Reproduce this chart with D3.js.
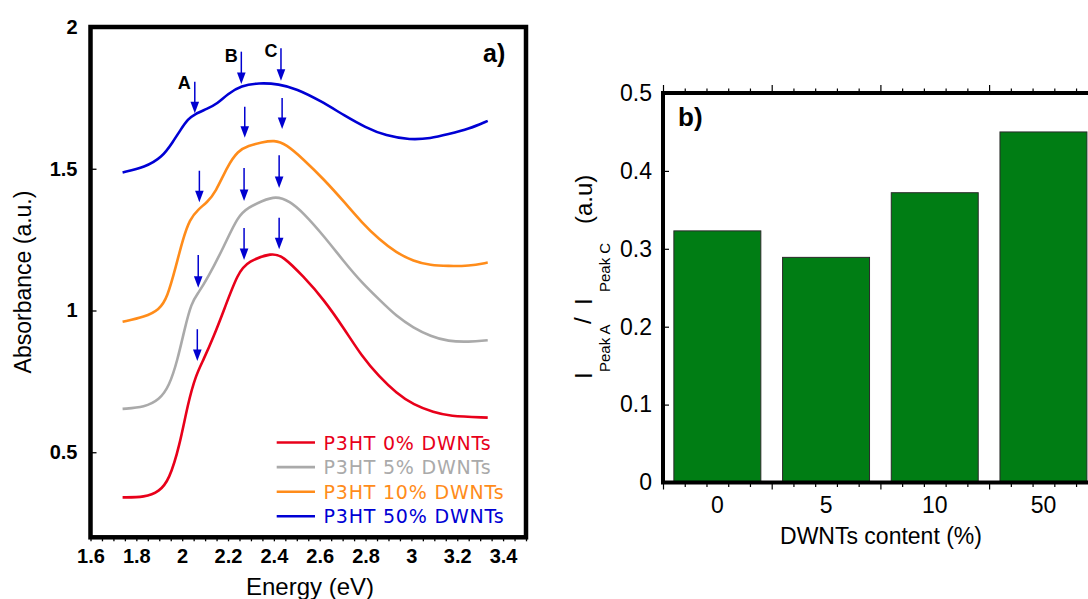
<!DOCTYPE html>
<html><head><meta charset="utf-8">
<script src="https://cdn.jsdelivr.net/npm/d3@7"></script>
<style>body{margin:0;background:#fff}svg{display:block}</style>
</head><body>
<svg id="c" width="1088" height="599"></svg>
<script>
// ---------- Panel a) data ----------
const seriesNames = ["P3HT 0% DWNTs","P3HT 5% DWNTs","P3HT 10% DWNTs","P3HT 50% DWNTs"];
const seriesColors = ["#e8001a","#aaaaaa","#ff8c1a","#0000d4"];

const energy0 = [1.74,1.837,1.90,1.943,1.988,2.025,2.06,2.093,2.138,2.183,2.243,2.288,2.393,2.439,2.528,2.618,2.709,2.784,2.859,2.934,3.009,3.10,3.16,3.333];
const abs0    = [0.341,0.341,0.361,0.402,0.52,0.673,0.773,0.826,0.909,1.003,1.133,1.174,1.204,1.192,1.121,1.039,0.933,0.838,0.767,0.709,0.667,0.64,0.628,0.622];

const energy5 = [1.74,1.837,1.90,1.943,1.98,2.01,2.04,2.07,2.108,2.183,2.243,2.288,2.348,2.408,2.469,2.528,2.618,2.709,2.784,2.859,2.934,3.009,3.084,3.16,3.25,3.333];
const abs5    = [0.653,0.659,0.685,0.732,0.826,0.933,1.027,1.062,1.109,1.227,1.333,1.363,1.386,1.404,1.386,1.345,1.263,1.169,1.098,1.039,0.98,0.939,0.909,0.891,0.889,0.895];

const energy10 = [1.74,1.837,1.90,1.935,1.973,2.003,2.033,2.07,2.108,2.145,2.198,2.243,2.288,2.348,2.401,2.453,2.528,2.618,2.709,2.784,2.859,2.934,3.009,3.084,3.16,3.25,3.333];
const abs10    = [0.96,0.977,1.003,1.045,1.157,1.251,1.322,1.357,1.381,1.416,1.51,1.563,1.581,1.593,1.601,1.587,1.534,1.463,1.381,1.31,1.251,1.204,1.174,1.159,1.157,1.157,1.169];

const energy50 = [1.74,1.837,1.912,1.958,1.995,2.025,2.055,2.108,2.153,2.198,2.258,2.333,2.423,2.498,2.603,2.709,2.799,2.889,2.994,3.084,3.16,3.25,3.333];
const abs50    = [1.487,1.505,1.54,1.593,1.64,1.675,1.693,1.711,1.729,1.764,1.793,1.803,1.799,1.782,1.74,1.687,1.646,1.616,1.602,1.607,1.622,1.64,1.669];

const xTicksA = [1.6,1.8,2,2.2,2.4,2.6,2.8,3,3.2,3.4];
const yTicksA = [0.5,1,1.5,2];

// peak arrows (energy, start value, tip value)
const arrowEnergy = [2.055,2.258,2.431, 2.075,2.273,2.436, 2.07,2.27,2.423, 2.066,2.27,2.423];
const arrowFrom   = [1.807,1.913,1.925, 1.493,1.719,1.75, 1.196,1.503,1.548, 0.934,1.291,1.327];
const arrowTo     = [1.696,1.799,1.81,  1.382,1.609,1.64, 1.08,1.386,1.432,  0.822,1.178,1.216];
const peakLabels  = ["A","B","C"];
const peakLabelE  = [2.009,2.214,2.388];
const peakLabelV  = [1.78,1.877,1.893];

// ---------- Panel b) data ----------
const categories = ["0","5","10","50"];
const ratioValues = [0.323,0.289,0.372,0.450];
const yTicksB = [0,0.1,0.2,0.3,0.4,0.5];

// ---------- Drawing ----------
const svg = d3.select("#c");
const seriesE = [energy0,energy5,energy10,energy50];
const seriesV = [abs0,abs5,abs10,abs50];

// Panel a
const A = {l:90.5, r:526, t:27, b:537.3};
const xA = d3.scaleLinear().domain([1.6,3.5]).range([A.l,A.r]);
const yA = d3.scaleLinear().domain([0.2,2]).range([A.b,A.t]);
const gA = svg.append("g");

const fmtA = v => String(+v.toFixed(2));
const xAxA = d3.axisBottom(xA)
  .tickValues(d3.range(0,39).map(i=>+(1.6+i*0.05).toFixed(2)))
  .tickSize(4).tickPadding(8)
  .tickFormat(v => xTicksA.some(t=>Math.abs(t-v)<1e-6) ? fmtA(v) : "");
const gx = gA.append("g").attr("transform",`translate(0,${A.b})`).call(xAxA);
gx.select(".domain").remove();
gx.selectAll("line").attr("stroke","#000").attr("stroke-width",1.3);
gx.selectAll("text").attr("font-family","Liberation Sans, Arial, sans-serif").attr("font-weight","bold").attr("font-size",20).attr("fill","#000");

const yAxA = d3.axisLeft(yA).tickValues(yTicksA).tickSize(-6).tickPadding(13).tickFormat(fmtA);
const gy = gA.append("g").attr("transform",`translate(${A.l},0)`).call(yAxA);
gy.select(".domain").remove();
gy.selectAll("line").attr("stroke","#000").attr("stroke-width",1.3);
gy.selectAll("text").attr("font-family","Liberation Sans, Arial, sans-serif").attr("font-weight","bold").attr("font-size",20).attr("fill","#000");

gA.append("rect").attr("x",A.l).attr("y",A.t).attr("width",A.r-A.l).attr("height",A.b-A.t)
  .attr("fill","none").attr("stroke","#000").attr("stroke-width",4.5);

const line = d3.line().x(d=>xA(d[0])).y(d=>yA(d[1])).curve(d3.curveBasis);
seriesE.forEach((es,i)=>{
  gA.append("path").datum(es.map((e,j)=>[e,seriesV[i][j]]))
    .attr("d",line).attr("fill","none").attr("stroke",seriesColors[i]).attr("stroke-width",2.6)
    .attr("stroke-linejoin","round");
});

// arrows
const arrowColor = "#0000d0";
arrowEnergy.forEach((e,i)=>{
  const x = xA(e), y0 = yA(arrowFrom[i]), y1 = yA(arrowTo[i]);
  gA.append("line").attr("x1",x).attr("x2",x).attr("y1",y0).attr("y2",y1-8)
    .attr("stroke",arrowColor).attr("stroke-width",1.5);
  gA.append("path").attr("d",`M${x-4.3},${y1-11.5}L${x+4.3},${y1-11.5}L${x},${y1}Z`).attr("fill",arrowColor);
});
peakLabels.forEach((t,i)=>{
  gA.append("text").attr("x",xA(peakLabelE[i])).attr("y",yA(peakLabelV[i]))
    .attr("text-anchor","middle").attr("font-family","Liberation Sans, Arial, sans-serif")
    .attr("font-weight","bold").attr("font-size",18).text(t);
});

// legend
seriesNames.forEach((n,i)=>{
  const y = 449.5 + i*24.6;
  gA.append("line").attr("x1",276.7).attr("x2",315).attr("y1",y-7).attr("y2",y-7)
    .attr("stroke",seriesColors[i]).attr("stroke-width",2.6);
  gA.append("text").attr("x",323.5).attr("y",y).attr("fill",seriesColors[i])
    .attr("font-family","DejaVu Sans, Verdana, sans-serif").attr("font-size",19)
    .attr("letter-spacing",0.8).text(n);
});

gA.append("text").attr("x",483).attr("y",62).attr("font-family","Liberation Sans, Arial, sans-serif")
  .attr("font-weight","bold").attr("font-size",25).text("a)");

gA.append("text").attr("transform",`translate(31,282) rotate(-90)`).attr("text-anchor","middle")
  .attr("font-family","Liberation Sans, Arial, sans-serif").attr("font-size",23).text("Absorbance (a.u.)");
gA.append("text").attr("x",310).attr("y",595).attr("text-anchor","middle")
  .attr("font-family","Liberation Sans, Arial, sans-serif").attr("font-size",24).text("Energy (eV)");

// Panel b
const B = {l:663, t:93, b:482.5, step:108.7};
const xBand = d3.scaleBand().domain(categories).range([B.l, B.l+4*B.step]).paddingInner(0.2).paddingOuter(0.1);
const xLin = d3.scaleLinear().domain([0,5]).range([B.l, B.l+5*B.step]);
const yB = d3.scaleLinear().domain([0,0.5]).range([B.b,B.t]);
const gB = svg.append("g");

gB.selectAll("rect.bar").data(ratioValues).join("rect").attr("class","bar")
  .attr("x",(d,i)=>xBand(categories[i])).attr("width",xBand.bandwidth())
  .attr("y",d=>yB(d)).attr("height",d=>yB(0)-yB(d))
  .attr("fill","#007d14").attr("stroke","#2a2a2a").attr("stroke-width",1);

function styleAx(g){ g.select(".domain").remove(); g.selectAll("line").attr("stroke","#000").attr("stroke-width",1.2); }
const majors = d3.range(0,6);
const minors = d3.range(0,26).map(i=>i/5).filter(v=>Math.abs(v-Math.round(v))>1e-6);
gB.append("g").attr("transform",`translate(0,${B.b})`).call(d3.axisBottom(xLin).tickValues(majors).tickSize(7).tickFormat("")).call(styleAx);
gB.append("g").attr("transform",`translate(0,${B.b})`).call(d3.axisBottom(xLin).tickValues(minors).tickSize(4.5).tickFormat("")).call(styleAx);
gB.append("g").attr("transform",`translate(0,${B.t})`).call(d3.axisTop(xLin).tickValues(majors).tickSize(8).tickFormat("")).call(styleAx);
gB.append("g").attr("transform",`translate(0,${B.t})`).call(d3.axisTop(xLin).tickValues(minors).tickSize(4.5).tickFormat("")).call(styleAx);

const gcat = gB.append("g").attr("transform",`translate(0,${B.b})`).call(d3.axisBottom(xBand).tickSize(0).tickPadding(14));
gcat.select(".domain").remove();
gcat.selectAll("text").attr("font-family","Liberation Sans, Arial, sans-serif").attr("font-size",23).attr("fill","#000");

const gyB = gB.append("g").attr("transform",`translate(${B.l},0)`)
  .call(d3.axisLeft(yB).tickValues(yTicksB).tickSize(-6).tickPadding(11).tickFormat(v=>v===0?"0":d3.format(".1f")(v)));
gyB.select(".domain").remove();
gyB.selectAll("line").attr("stroke","#000").attr("stroke-width",1.2);
gyB.selectAll("text").attr("font-family","Liberation Sans, Arial, sans-serif").attr("font-size",23).attr("fill","#000");

gB.append("rect").attr("x",B.l).attr("y",B.t).attr("width",5*B.step).attr("height",B.b-B.t)
  .attr("fill","none").attr("stroke","#000").attr("stroke-width",4);

gB.append("text").attr("x",678).attr("y",126).attr("font-family","Liberation Sans, Arial, sans-serif")
  .attr("font-weight","bold").attr("font-size",26).text("b)");

gB.append("text").attr("x",881).attr("y",544).attr("text-anchor","middle")
  .attr("font-family","Liberation Sans, Arial, sans-serif").attr("font-size",23).text("DWNTs content (%)");

// y label pieces (rotated)
const ylab = [
  {t:"I", y:379, x:592, s:24},
  {t:"Peak A", y:372, x:610, s:15},
  {t:"/", y:324, x:591, s:24},
  {t:"I", y:305, x:592, s:24},
  {t:"Peak C", y:292, x:610, s:15},
  {t:"(a.u)", y:224, x:592, s:24}
];
ylab.forEach(p=>{
  gB.append("text").attr("transform",`translate(${p.x},${p.y}) rotate(-90)`)
    .attr("font-family","Liberation Sans, Arial, sans-serif").attr("font-size",p.s).text(p.t);
});
</script>
</body></html>
